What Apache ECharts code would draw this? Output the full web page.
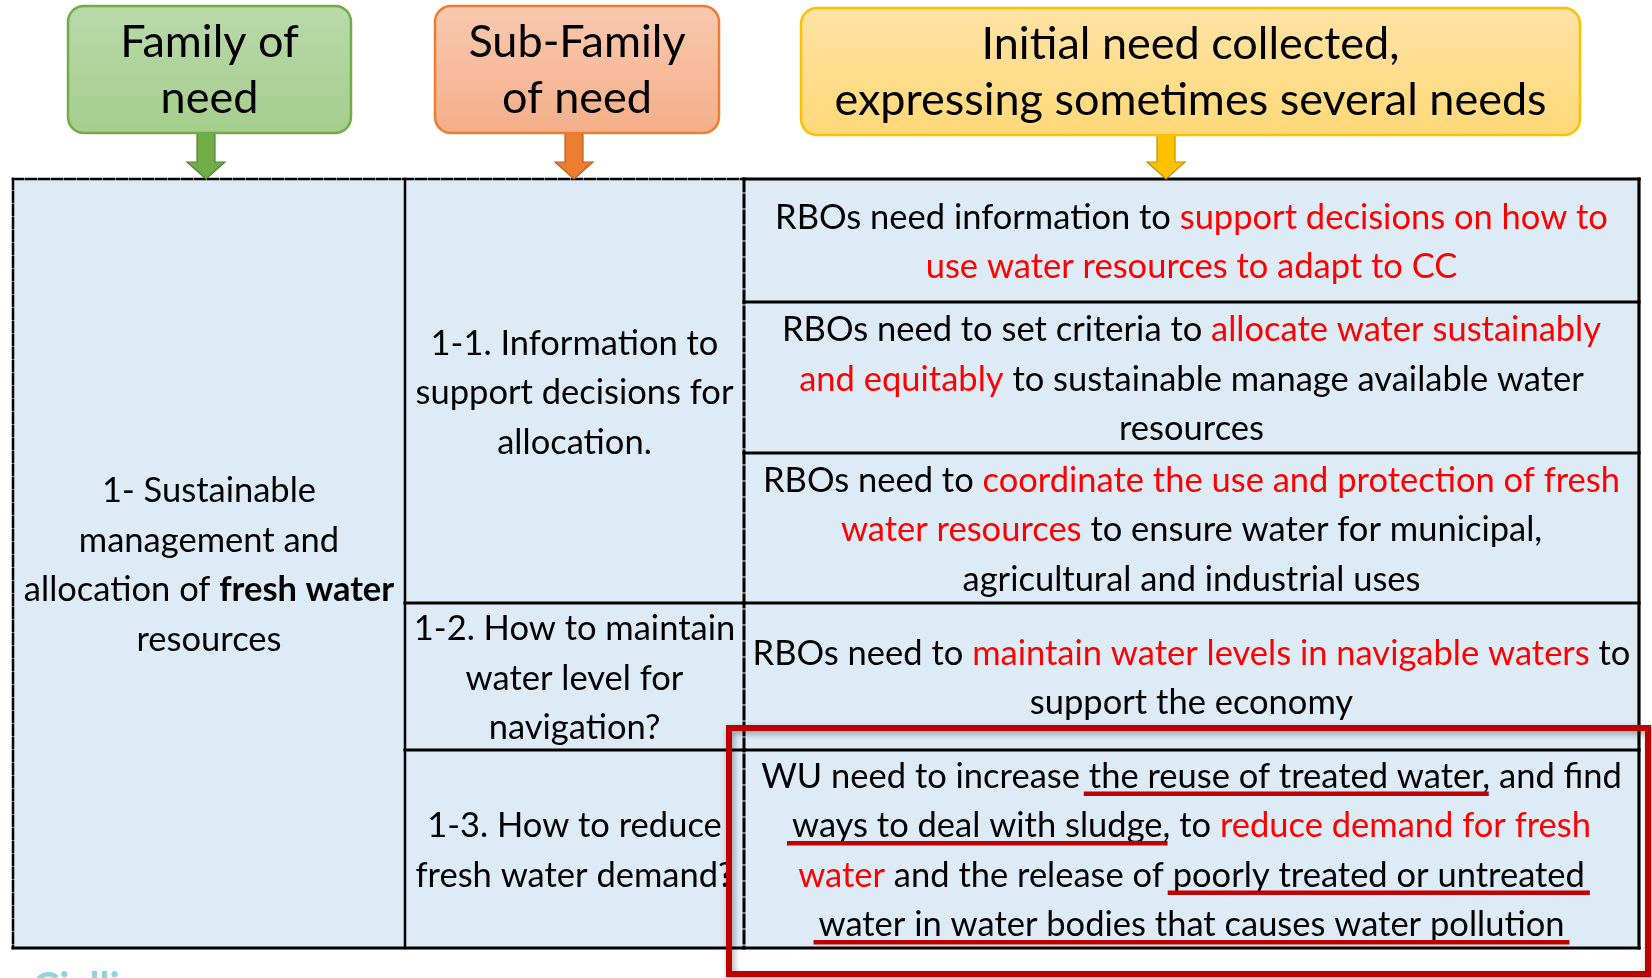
<!DOCTYPE html>
<html>
<head>
<meta charset="utf-8">
<script src="https://cdn.jsdelivr.net/npm/echarts@6/dist/echarts.min.js"></script>
<style>
html,body{margin:0;padding:0;background:#ffffff;}
#chart{width:1652px;height:978px;}
</style>
</head>
<body>
<div id="chart"></div>
<script>
// ================= CONTENT =================
const headerTitles = [
  'Family of\nneed',
  'Sub-Family\nof need',
  'Initial need collected,\nexpressing sometimes several needs'
];
const families = [
  '1- Sustainable\nmanagement and\nallocation of {b|fresh water}\nresources'
];
const subFamilies = [
  '1-1. Information to\nsupport decisions for\nallocation.',
  '1-2. How to maintain\nwater level for\nnavigation?',
  '1-3. How to reduce\nfresh water demand?'
];
const needs = [
  'RBOs need information to {r|support decisions on how to}\n{r|use water resources to adapt to CC}',
  'RBOs need to set criteria to {r|allocate water sustainably}\n{r|and equitably} to sustainable manage available water\nresources',
  'RBOs need to {r|coordinate the use and protection of fresh}\n{r|water resources} to ensure water for municipal,\nagricultural and industrial uses',
  'RBOs need to {r|maintain water levels in navigable waters} to\nsupport the economy',
  'WU need to increase the reuse of treated water, and find\nways to deal with sludge, to {r|reduce demand for fresh}\n{r|water} and the release of poorly treated or untreated\nwater in water bodies that causes water pollution'
];
const needSubFamily = [0, 0, 0, 1, 2];
const underlinedPhrases = [
  'the reuse of treated water',
  'ways to deal with sludge',
  'poorly treated or untreated',
  'water in water bodies that causes water pollution'
];
const underlinedNeed = [4, 4, 4, 4];
const highlightedNeeds = [4];
const logoText = 'o Cialliance';

// ================= LAYOUT / STYLE =================
const L = {
  colEdges: [13, 405, 744, 1639],
  rowEdges: [179, 302, 453, 603, 750, 948],
  headerBoxes: [[68, 6, 351, 133], [435, 6, 719, 133], [801, 8, 1580, 135]],
  arrowX: [206, 574, 1166],
  highlightPad: [15, 22, 9, 26], // left, top, right, bottom
  textShift: 2,
  underlineOffset: 19
};
const FONT = 'Lato';
const BODY = 34.5, LH = 49.5, HEAD = 45, HEAD_LH = 56;
const CELL_FILL = '#DDEBF7';
const RED = '#FF0000', DARK_RED = '#C00000';
const headerStyles = [
  {top: '#B9D9AB', bottom: '#A5CE8C', stroke: '#70AD47', arrow: '#70AD47', arrowStroke: '#548235'},
  {top: '#F9C9B0', bottom: '#F4AE88', stroke: '#ED7D31', arrow: '#ED7D31', arrowStroke: '#B5601F'},
  {top: '#FFE3A6', bottom: '#FFD877', stroke: '#FFC000', arrow: '#FFC000', arrowStroke: '#BF9000'}
];

function rich() {
  return {
    r: {fill: RED, fontSize: BODY, fontFamily: FONT, lineHeight: LH},
    b: {fill: '#000', fontSize: BODY, fontFamily: FONT, fontWeight: 'bold', lineHeight: LH}
  };
}

// ================= BUILD TABLE DATA =================
const cellTexts = [families, subFamilies, needs];
const cells = [];
families.forEach((t, i) => cells.push([0, 0, needs.length, i]));
subFamilies.forEach((t, i) => {
  const rows = needSubFamily.map((s, k) => (s === i ? k : -1)).filter(k => k >= 0);
  cells.push([1, rows[0], rows[rows.length - 1] + 1, i]);
});
needs.forEach((t, i) => cells.push([2, i, i + 1, i]));

// borders: [x1, y1, x2, y2, kind]
const E = L.colEdges, R = L.rowEdges, tTop = R[0], tBot = R[R.length - 1];
const borders = [];
borders.push([E[0], tTop, E[2], tTop, 2]);
borders.push([E[2], tTop, E[3], tTop, 1]);
borders.push([E[0], tTop, E[0], tBot, 2]);
borders.push([E[1], tTop, E[1], tBot, 0]);
borders.push([E[3], tTop, E[3], tBot, 1]);
for (let i = 1; i < R.length - 1; i++) borders.push([E[2], R[i], E[3], R[i], 1]);
for (let i = 1; i < needSubFamily.length; i++) {
  if (needSubFamily[i] !== needSubFamily[i - 1]) borders.push([E[1], R[i], E[2], R[i], 1]);
}
borders.push([E[2], tTop, E[2], tBot, 3]);
borders.push([E[0], tBot, E[3], tBot, 1]);
const borderStyles = [
  {lineWidth: 2.5, lineDash: null},
  {lineWidth: 3.2, lineDash: null},
  {lineWidth: 2.5, lineDash: [10, 3]},
  {lineWidth: 3, lineDash: [12, 4]}
];

// text measurement
const mctx = document.createElement('canvas').getContext('2d');
mctx.font = BODY + 'px ' + FONT;
function tw(s) { return mctx.measureText(s).width; }

const chart = echarts.init(document.getElementById('chart'), null, {renderer: 'canvas'});

const option = {
  animation: false,
  backgroundColor: '#ffffff',
  grid: {left: 0, right: 0, top: 0, bottom: 0},
  xAxis: {type: 'value', min: 0, max: 1652, show: false},
  yAxis: {type: 'value', min: 0, max: 978, inverse: true, show: false},
  graphic: [{
    type: 'text', left: 0, top: 968, z: 1,
    style: {text: logoText, fill: '#8FD3DC', fontSize: 40, fontFamily: FONT, fontWeight: 'bold'}
  }],
  series: [
    {
      type: 'custom', name: 'cells', z: 2,
      data: cells,
      encode: {x: 0, y: 1},
      renderItem: function (params, api) {
        const col = api.value(0), r0 = api.value(1), r1 = api.value(2), ti = api.value(3);
        const p0 = api.coord([L.colEdges[col], L.rowEdges[r0]]);
        const p1 = api.coord([L.colEdges[col + 1], L.rowEdges[r1]]);
        const x = p0[0], y = p0[1], w = p1[0] - p0[0], h = p1[1] - p0[1];
        return {
          type: 'group',
          children: [
            {type: 'rect', shape: {x: x, y: y, width: w, height: h}, style: {fill: CELL_FILL}},
            {type: 'text', x: x + w / 2, y: y + h / 2 + L.textShift, z2: 5,
              style: {text: cellTexts[col][ti], align: 'center', verticalAlign: 'middle',
                fontSize: BODY, fontFamily: FONT, lineHeight: LH, fill: '#000', rich: rich()}}
          ]
        };
      }
    },
    {
      type: 'custom', name: 'borders', z: 3,
      data: borders,
      encode: {x: 0, y: 1},
      renderItem: function (params, api) {
        const a = api.coord([api.value(0), api.value(1)]);
        const b = api.coord([api.value(2), api.value(3)]);
        const s = borderStyles[api.value(4)];
        return {type: 'line', shape: {x1: a[0], y1: a[1], x2: b[0], y2: b[1]},
          style: {stroke: '#000', lineWidth: s.lineWidth, lineDash: s.lineDash, lineCap: 'square'}};
      }
    },
    {
      type: 'custom', name: 'underlines', z: 4,
      data: underlinedPhrases.map((p, i) => [i, underlinedNeed[i]]),
      encode: {x: 0, y: 1},
      renderItem: function (params, api) {
        const pi = api.value(0), ni = api.value(1);
        const phrase = underlinedPhrases[pi];
        const lines = needs[ni].replace(/\{[a-z]+\|([^}]*)\}/g, '$1').split('\n');
        let li = lines.findIndex(l => l.indexOf(phrase) >= 0);
        const line = lines[li], pos = line.indexOf(phrase);
        const p0 = api.coord([L.colEdges[2], L.rowEdges[ni]]);
        const p1 = api.coord([L.colEdges[3], L.rowEdges[ni + 1]]);
        const cx = (p0[0] + p1[0]) / 2, cy = (p0[1] + p1[1]) / 2;
        const x0 = cx - tw(line) / 2 + tw(line.slice(0, pos)) - 5;
        const w = tw(phrase) + 10;
        const y = cy + (li - (lines.length - 1) / 2) * LH + L.underlineOffset;
        return {type: 'rect', shape: {x: x0, y: y - 2.2, width: w, height: 4.5}, style: {fill: DARK_RED}};
      }
    },
    {
      type: 'custom', name: 'headers', z: 5,
      data: headerTitles.map((t, i) => [i, 0]),
      encode: {x: 0, y: 1},
      renderItem: function (params, api) {
        const i = api.value(0);
        const hb = L.headerBoxes[i], st = headerStyles[i];
        const a = api.coord([hb[0], hb[1]]), b = api.coord([hb[2], hb[3]]);
        const ax = api.coord([L.arrowX[i], L.rowEdges[0]]);
        const cx = ax[0], tip = ax[1], t0 = b[1] - 2, hh = 17;
        const arrow = [[cx - 9, t0], [cx + 9, t0], [cx + 9, tip - hh], [cx + 19, tip - hh], [cx, tip],
          [cx - 19, tip - hh], [cx - 9, tip - hh]];
        return {
          type: 'group',
          children: [
            {type: 'polygon', shape: {points: arrow}, style: {fill: st.arrow, stroke: st.arrowStroke, lineWidth: 1.2}},
            {type: 'rect', shape: {x: a[0], y: a[1], width: b[0] - a[0], height: b[1] - a[1], r: 16},
              style: {fill: new echarts.graphic.LinearGradient(0, 0, 0, 1, [
                {offset: 0, color: st.top}, {offset: 1, color: st.bottom}]),
                stroke: st.stroke, lineWidth: 2.5}},
            {type: 'text', x: (a[0] + b[0]) / 2, y: (a[1] + b[1]) / 2 + 1, z2: 5,
              style: {text: headerTitles[i], align: 'center', verticalAlign: 'middle',
                fontSize: HEAD, fontFamily: FONT, lineHeight: HEAD_LH, fill: '#000'}}
          ]
        };
      }
    },
    {
      type: 'custom', name: 'highlight', z: 6,
      data: highlightedNeeds.map(n => [n, 0]),
      encode: {x: 0, y: 1},
      renderItem: function (params, api) {
        const n = api.value(0), p = L.highlightPad;
        const a = api.coord([L.colEdges[2] - p[0], L.rowEdges[n] - p[1]]);
        const b = api.coord([L.colEdges[3] + p[2], L.rowEdges[n + 1] + p[3]]);
        return {type: 'rect', shape: {x: a[0], y: a[1], width: b[0] - a[0], height: b[1] - a[1]},
          style: {fill: null, stroke: DARK_RED, lineWidth: 6, shadowBlur: 6,
            shadowColor: 'rgba(0,0,0,0.35)', shadowOffsetX: 2, shadowOffsetY: 3}};
      }
    }
  ]
};
chart.setOption(option);
</script>
</body>
</html>
